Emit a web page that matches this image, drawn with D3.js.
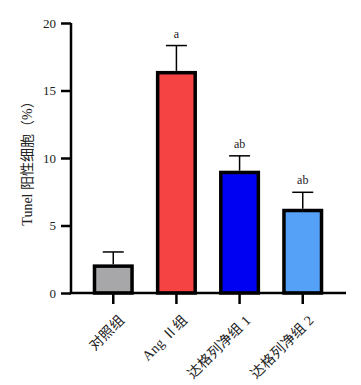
<!DOCTYPE html>
<html><head><meta charset="utf-8">
<script src="https://cdn.jsdelivr.net/npm/d3@7"></script>
<style>body{margin:0;background:#fff}svg{display:block}</style>
</head><body>
<script>
const categories = ["对照组", "Ang Ⅱ组", "达格列净组 1", "达格列净组 2"];
const means = [2.12, 16.45, 9.06, 6.24];
const errors = [0.92, 1.88, 1.1, 1.22];
const sigLabels = ["", "a", "ab", "ab"];
const colors = ["#a7a7a9", "#f54343", "#0000f2", "#55a1f7"];
const yTicks = [0, 5, 10, 15, 20];

const W = 361, H = 385;
const svg = d3.select("body").append("svg").attr("width", W).attr("height", H);
const font = "'Liberation Serif','Noto Sans CJK SC',serif";

const y = d3.scaleLinear().domain([0, 20]).range([293, 23]);
const x = d3.scaleBand().domain(categories).range([82, 334]).paddingInner(0.35).paddingOuter(0.17);

// bars
const g = svg.append("g");
g.selectAll("rect").data(categories).join("rect")
  .attr("x", d => x(d) + 1.75)
  .attr("width", x.bandwidth() - 3.5)
  .attr("y", (d, i) => y(means[i]) + 1.75)
  .attr("height", (d, i) => y(0) - y(means[i]) - 1.75)
  .attr("fill", (d, i) => colors[i])
  .attr("stroke", "#000").attr("stroke-width", 3.5);

// error bars
const cx = d => x(d) + x.bandwidth() / 2;
g.selectAll("line.err").data(categories).join("line").attr("class", "err")
  .attr("x1", cx).attr("x2", cx)
  .attr("y1", (d, i) => y(means[i])).attr("y2", (d, i) => y(means[i] + errors[i]))
  .attr("stroke", "#000").attr("stroke-width", 1.5);
g.selectAll("line.cap").data(categories).join("line").attr("class", "cap")
  .attr("x1", d => cx(d) - 10.5).attr("x2", d => cx(d) + 10.5)
  .attr("y1", (d, i) => y(means[i] + errors[i])).attr("y2", (d, i) => y(means[i] + errors[i]))
  .attr("stroke", "#000").attr("stroke-width", 1.5);
g.selectAll("text.sig").data(categories).join("text").attr("class", "sig")
  .attr("x", cx).attr("y", (d, i) => y(means[i] + errors[i]) - 8)
  .attr("text-anchor", "middle").attr("font-family", font).attr("font-size", 12)
  .attr("fill", "#222")
  .text((d, i) => sigLabels[i]);

// y axis
const yAxis = svg.append("g").attr("transform", "translate(71,0)")
  .call(d3.axisLeft(y).tickValues(yTicks).tickSize(10).tickPadding(5));
yAxis.select(".domain").attr("stroke-width", 2.5).attr("d", "M0,23V293");
yAxis.selectAll(".tick line").attr("stroke-width", 2.5);
yAxis.selectAll("text").attr("font-family", font).attr("font-size", 13).attr("fill", "#222");

// x axis
const xAxis = svg.append("g").attr("transform", "translate(0,293)")
  .call(d3.axisBottom(x).tickSize(11).tickFormat(""));
xAxis.select(".domain").attr("stroke-width", 2.5).attr("d", "M70,0H346");
xAxis.selectAll(".tick line").attr("stroke-width", 2.5);
xAxis.selectAll(".tick").append("text")
  .attr("transform", "translate(12,28) rotate(-45)")
  .attr("text-anchor", "end").attr("font-family", font).attr("font-size", 14)
  .attr("letter-spacing", 0.3)
  .attr("fill", "#222").text(d => d);

// y label
svg.append("text")
  .attr("transform", "translate(32,160) rotate(-90)")
  .attr("text-anchor", "middle").attr("font-family", font).attr("font-size", 14)
  .attr("fill", "#222").text("Tunel 阳性细胞（%）");
</script>
</body></html>
